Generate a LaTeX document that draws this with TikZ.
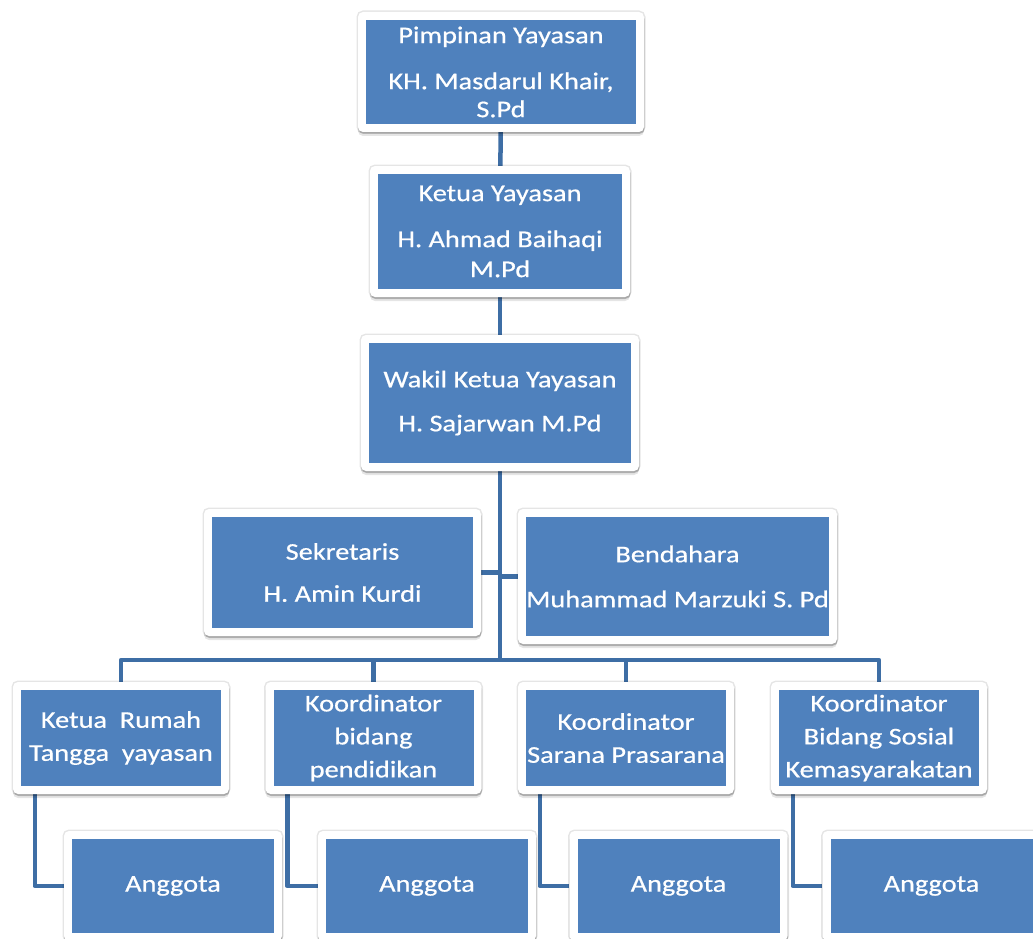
\documentclass[tikz,border=0pt]{standalone}
\usepackage{fontspec}
\setmainfont{Carlito}[FakeStretch=1.18, FakeBold=0.6]
\usetikzlibrary{shadows}
\definecolor{boxblue}{RGB}{79,129,189}
\definecolor{linkblue}{RGB}{62,110,165}
\pgfdeclarelayer{paper}
\pgfdeclarelayer{bg}
\pgfsetlayers{paper,bg,main}
\begin{document}
\begin{tikzpicture}[x=1pt,y=-1pt,
  orgbox/.style={fill=white, rounded corners=5pt, inner sep=0pt, text=white, align=center,
    font=\fontsize{24}{31}\selectfont,
    drop shadow={shadow xshift=0pt, shadow yshift=-4pt, opacity=0.10, fill=black},
    drop shadow={shadow xshift=0.5pt, shadow yshift=-2pt, opacity=0.18, fill=black},
    preaction={draw=black, draw opacity=0.10, line width=3pt},
    path picture={\fill[boxblue, sharp corners] ([shift={(8pt,-8pt)}]path picture bounding box.north west) rectangle ([shift={(-8pt,8pt)}]path picture bounding box.south east);}},
  bsize/.style 2 args={minimum width=#1, minimum height=#2},
  link/.style={draw=linkblue, line width=4.5pt, line join=round}]
\useasboundingbox (0,0) rectangle (1033,939);
\begin{pgfonlayer}{paper}
\fill[white] (0,0) rectangle (1033,939);
\end{pgfonlayer}

\node[orgbox, bsize={286pt}{120pt}] (pim) at (501,72) {Pimpinan Yayasan\\[15pt]KH. Masdarul Khair,\\[-3pt]S.Pd};
\node[orgbox, bsize={260pt}{131pt}] (ket) at (500,231.5) {Ketua Yayasan\\[15pt]H. Ahmad Baihaqi\\[-1pt]M.Pd};
\node[orgbox, bsize={278pt}{136pt}] (wak) at (500,403) {Wakil Ketua Yayasan\\[13pt]H. Sajarwan M.Pd};
\node[orgbox, bsize={277pt}{127pt}] (sek) at (342.5,572.5) {Sekretaris\\[11pt]H. Amin Kurdi};
\node[orgbox, bsize={319pt}{135pt}] (ben) at (677.5,576.5) {Bendahara\\[14pt]Muhammad Marzuki S. Pd};

\node[orgbox, bsize={216pt}{112pt}] (r1) at (121,738) {Ketua\ \ Rumah\\[2pt]Tangga\ \ yayasan};
\node[orgbox, bsize={216pt}{112pt}] (r2) at (373.5,738) {Koordinator\\[2pt]bidang\\[2pt]pendidikan};
\node[orgbox, bsize={216pt}{112pt}] (r3) at (626,738) {Koordinator\\[2pt]Sarana Prasarana};
\node[orgbox, bsize={216pt}{112pt}] (r4) at (879,738) {Koordinator\\[2pt]Bidang Sosial\\[2pt]Kemasyarakatan};

\node[orgbox, bsize={218pt}{110pt}] (a1) at (173,886) {Anggota};
\node[orgbox, bsize={218pt}{110pt}] (a2) at (427,886) {Anggota};
\node[orgbox, bsize={218pt}{110pt}] (a3) at (678.5,886) {Anggota};
\node[orgbox, bsize={218pt}{110pt}] (a4) at (931.5,886) {Anggota};

\begin{pgfonlayer}{bg}
\coordinate (bus) at (499,660);
\draw[link] (pim) -- (ket);
\draw[link] (ket) -- (wak);
\draw[link] (wak) -- (wak |- bus);
\draw[link] (sek) -- (sek -| wak);
\draw[link] (ben) -- (ben -| wak);
\draw[link] (r1) |- (bus) -| (r4);
\draw[link] (r2 |- bus) -- (r2);
\draw[link] (r3 |- bus) -- (r3);
\foreach \i in {1,2,3,4}{
  \draw[link] ([xshift=22pt]r\i.south west) |- (a\i);
}
\end{pgfonlayer}
\end{tikzpicture}
\end{document}
